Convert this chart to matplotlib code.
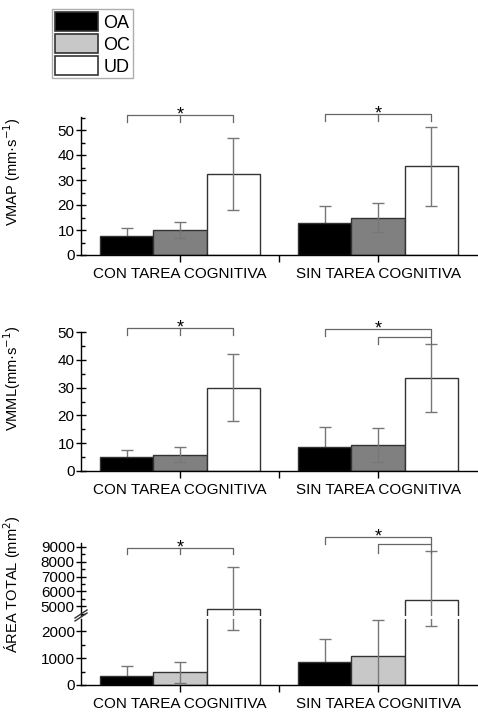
import numpy as np
import matplotlib
matplotlib.use('Agg')
import matplotlib.pyplot as plt
from matplotlib.patches import Patch
from matplotlib.ticker import MultipleLocator

plt.rcParams['font.family'] = ['Liberation Sans', 'DejaVu Sans']

groups = ['CON TAREA COGNITIVA', 'SIN TAREA COGNITIVA']
series = ['OA', 'OC', 'UD']

# panel 1: VMAP
vmap = {'OA': [7.8, 13.0], 'OC': [10.0, 15.0], 'UD': [32.5, 35.6]}
vmap_err = {'OA': [3.0, 6.7], 'OC': [3.3, 5.9], 'UD': [14.5, 15.8]}
# panel 2: VMML
vmml = {'OA': [5.0, 8.4], 'OC': [5.7, 9.3], 'UD': [30.0, 33.6]}
vmml_err = {'OA': [2.5, 7.3], 'OC': [2.7, 6.3], 'UD': [12.0, 12.3]}
# panel 3: AREA TOTAL
area = {'OA': [330, 860], 'OC': [470, 1080], 'UD': [4850, 5450]}
area_err = {'OA': [370, 860], 'OC': [390, 1340], 'UD': [2800, 3260]}

W = 0.27
offs = {'OA': -W, 'OC': 0.0, 'UD': W}
edge = '#333333'
errc = '#777777'
brc = '#666666'
FS = 11


def style_axis(ax, major, minor):
    ax.spines['top'].set_visible(False)
    ax.spines['right'].set_visible(False)
    for s in ax.spines.values():
        s.set_linewidth(1.0)
    ax.yaxis.set_major_locator(MultipleLocator(major))
    ax.yaxis.set_minor_locator(MultipleLocator(minor))
    ax.tick_params(axis='y', which='major', direction='inout', length=7, width=1, labelsize=FS, pad=1)
    ax.tick_params(axis='y', which='minor', direction='in', length=3, width=1)
    ax.set_xlim(0.5, 2.5)
    ax.set_xticks([1, 2])
    ax.set_xticks([1.5], minor=True)
    ax.tick_params(axis='x', which='both', direction='out', length=5, width=1, labelsize=FS, pad=4)
    ax.set_xticklabels(groups)


def draw_bars(ax, vals, errs, colors):
    x = np.arange(1, len(groups) + 1)
    for s in series:
        ax.bar(x + offs[s], vals[s], W, color=colors[s], edgecolor=edge, linewidth=1.0, zorder=2)
        # black bars hide the lower half of their error bars
        z = 1 if s == 'OA' else 3
        ax.errorbar(x + offs[s], vals[s], yerr=errs[s], fmt='none', ecolor=errc,
                    elinewidth=1.0, capsize=4.5, capthick=1.0, zorder=z)


def bracket(ax, x0, x1, y, yend, mid=None, star=True):
    ax.plot([x0, x0, x1, x1], [yend, y, y, yend], color=brc, lw=0.9, clip_on=False, zorder=4)
    if mid is not None:
        ax.plot([mid, mid], [y, yend], color=brc, lw=0.9, clip_on=False, zorder=4)
    if star:
        ax.text((x0 + x1) / 2, y, '*', ha='center', va='center', fontsize=13, clip_on=False)


fig = plt.figure(figsize=(4.78, 7.15), dpi=100)
L = 81 / 478
Wd = 396 / 478


def fax(top_px, bot_px):
    return fig.add_axes([L, 1 - bot_px / 715, Wd, (bot_px - top_px) / 715])


dark = {'OA': 'black', 'OC': '#808080', 'UD': 'white'}
light = {'OA': 'black', 'OC': '#c8c8c8', 'UD': 'white'}

# panel 1
ax1 = fax(117, 255)
draw_bars(ax1, vmap, vmap_err, dark)
ax1.set_ylim(0, 55.2)
style_axis(ax1, 10, 5)
ax1.set_ylabel('VMAP (mm·s$^{-1}$)', fontsize=10.5)
ax1.yaxis.set_label_coords(-0.146, 0.6)
bracket(ax1, 1 - W, 1 + W, 56, 53.2, mid=1)
bracket(ax1, 2 - W, 2 + W, 56.4, 53.6, mid=2)

# panel 2
ax2 = fax(332.3, 470.7)
draw_bars(ax2, vmml, vmml_err, dark)
ax2.set_ylim(0, 50)
style_axis(ax2, 10, 5)
ax2.set_ylabel('VMML(mm·s$^{-1}$)', fontsize=10.5)
ax2.yaxis.set_label_coords(-0.146, 0.67)
bracket(ax2, 1 - W, 1 + W, 51.4, 49, mid=1)
bracket(ax2, 2 - W, 2 + W, 51.2, 48.8)
bracket(ax2, 2, 2 + W, 48.2, 45.8, star=False)

# panel 3 (broken y axis)
ax3b = fax(619, 685)
ax3t = fax(543, 616)
for a in (ax3b, ax3t):
    draw_bars(a, area, area_err, light)
ax3b.set_ylim(0, 2450)
ax3t.set_ylim(4350, 9250)
style_axis(ax3b, 1000, 500)
style_axis(ax3t, 1000, 500)
ax3t.spines['bottom'].set_visible(False)
ax3t.tick_params(axis='x', which='both', bottom=False, labelbottom=False)
ax3b.set_ylabel('ÁREA TOTAL (mm$^2$)', fontsize=10.5)
ax3b.yaxis.set_label_coords(-0.146, 1.52)
# break mark
fig.lines.append(plt.Line2D([L - 6 / 478, L + 6 / 478], [1 - 621 / 715, 1 - 613 / 715],
                            transform=fig.transFigure, color='#333333', lw=1.0))
fig.lines.append(plt.Line2D([L - 6 / 478, L + 6 / 478], [1 - 618 / 715, 1 - 610 / 715],
                            transform=fig.transFigure, color='#333333', lw=1.0))
bracket(ax3t, 1 - W, 1 + W, 8930, 8490, mid=1)
bracket(ax3t, 2 - W, 2 + W, 9640, 9150)
bracket(ax3t, 2, 2 + W, 9150, 8600, star=False)

# legend
handles = [Patch(facecolor=light[s], edgecolor=edge, linewidth=1.2, label=s) for s in series]
leg = fig.legend(handles=handles, loc='upper left', bbox_to_anchor=(52 / 478, 1 - 9 / 715),
                 fontsize=13, frameon=True, fancybox=False, handlelength=2.4, handleheight=1.3,
                 labelspacing=0.12, handletextpad=0.3, borderpad=0.15, borderaxespad=0)
leg.get_frame().set_edgecolor('#999999')
leg.get_frame().set_linewidth(1.0)

fig.savefig('out.png', dpi=100)
